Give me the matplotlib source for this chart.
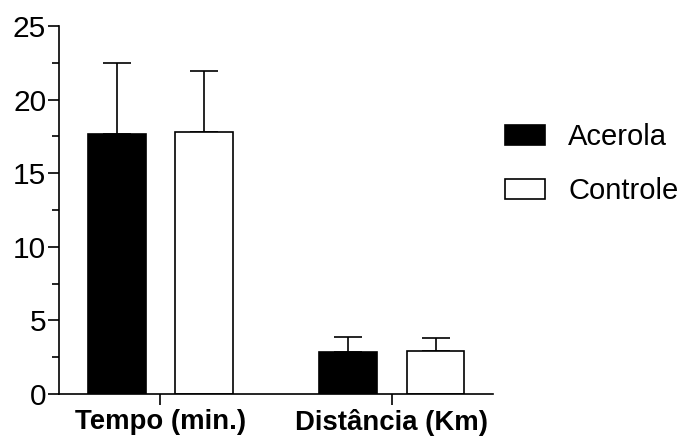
import numpy as np
import matplotlib.pyplot as plt
from matplotlib.ticker import MultipleLocator

plt.rcParams['font.family'] = ['Liberation Sans', 'DejaVu Sans']

# group labels and series (mean, upper SD)
groups = ['Tempo (min.)', 'Distância (Km)']
acerola_mean = [17.66, 2.83]
acerola_sd = [4.81, 1.06]
controle_mean = [17.82, 2.90]
controle_sd = [4.14, 0.92]
series_names = ['Acerola', 'Controle']

lw = 1.2
x = np.arange(len(groups))
width = 0.25
offset = 0.188

fig = plt.figure(figsize=(6.79, 4.44), dpi=100)
ax = fig.add_axes([0.0865, 0.1126, 0.6395, 0.8288])

err_kw = dict(fmt='none', ecolor='black', elinewidth=lw, capsize=10.4, capthick=lw)

b1 = ax.bar(x - offset, acerola_mean, width, color='black', edgecolor='black',
            linewidth=lw, label=series_names[0], zorder=2)
ax.errorbar(x - offset, acerola_mean, yerr=[np.zeros(2), acerola_sd], zorder=1, **err_kw)
b2 = ax.bar(x + offset, controle_mean, width, color='white', edgecolor='black',
            linewidth=lw, label=series_names[1], zorder=2)
ax.errorbar(x + offset, controle_mean, yerr=[np.zeros(2), controle_sd], zorder=1, **err_kw)

ax.set_xlim(-0.4385, 1.436)
ax.set_ylim(0, 25)
ax.yaxis.set_major_locator(MultipleLocator(5))
ax.yaxis.set_minor_locator(MultipleLocator(2.5))
ax.set_xticks(x)
ax.set_xticklabels(groups, fontweight='bold', fontsize=19.8)

for s in ['top', 'right']:
    ax.spines[s].set_visible(False)
for s in ['left', 'bottom']:
    ax.spines[s].set_linewidth(lw)
ax.tick_params(axis='y', which='major', length=8, width=lw, labelsize=21.5, pad=1)
ax.tick_params(axis='y', which='minor', length=5, width=lw)
ax.tick_params(axis='x', which='major', length=8, width=lw, pad=3)

ax.legend(handles=[b1, b2], loc='upper left', bbox_to_anchor=(0.744, 0.723),
          bbox_transform=fig.transFigure, frameon=False, fontsize=21,
          handlelength=1.37, handleheight=0.68, handletextpad=0.79,
          labelspacing=0.9, borderpad=0, borderaxespad=0)

fig.savefig('out.png', dpi=100)
